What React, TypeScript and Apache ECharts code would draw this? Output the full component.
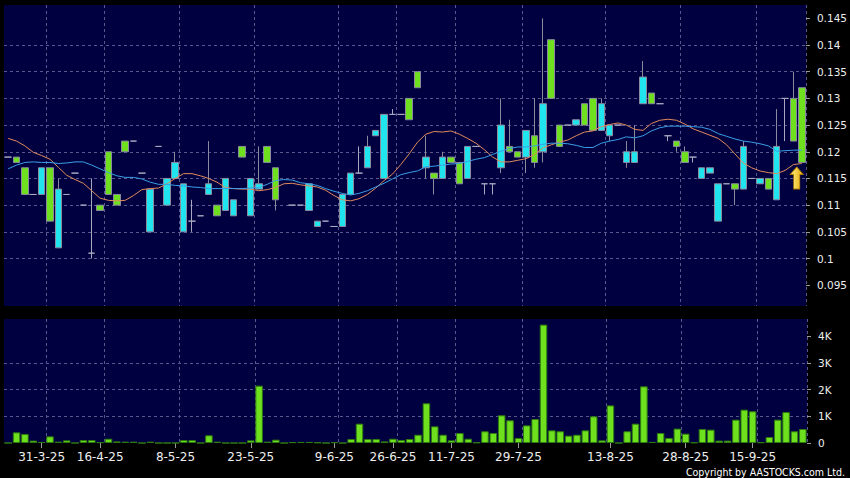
import { useEffect, useRef } from 'react';
import * as echarts from 'echarts';

const dates = [
  '25-3-25', '26-3-25', '27-3-25', '28-3-25', '31-3-25',
  '1-4-25', '3-4-25', '7-4-25', '9-4-25', '11-4-25', '15-4-25',
  '16-4-25',
  '17-4-25', '22-4-25', '24-4-25', '25-4-25', '28-4-25', '30-4-25', '2-5-25', '6-5-25',
  '8-5-25',
  '9-5-25', '12-5-25', '13-5-25', '14-5-25', '16-5-25', '19-5-25', '20-5-25', '22-5-25',
  '23-5-25',
  '26-5-25', '27-5-25', '28-5-25', '29-5-25', '30-5-25', '2-6-25', '3-6-25', '4-6-25', '6-6-25',
  '9-6-25',
  '10-6-25', '12-6-25', '16-6-25', '18-6-25', '20-6-25', '24-6-25',
  '26-6-25',
  '27-6-25', '30-6-25', '2-7-25', '3-7-25', '7-7-25', '9-7-25',
  '11-7-25',
  '14-7-25', '15-7-25', '17-7-25', '21-7-25', '23-7-25', '24-7-25', '28-7-25',
  '29-7-25',
  '30-7-25', '31-7-25', '1-8-25', '4-8-25', '5-8-25', '6-8-25', '7-8-25', '8-8-25', '11-8-25', '12-8-25',
  '13-8-25',
  '14-8-25', '15-8-25', '18-8-25', '19-8-25', '20-8-25', '22-8-25', '25-8-25', '27-8-25',
  '28-8-25',
  '29-8-25', '1-9-25', '2-9-25', '4-9-25', '8-9-25', '10-9-25', '12-9-25',
  '15-9-25',
  '16-9-25', '17-9-25', '18-9-25', '19-9-25', '22-9-25', '23-9-25',
];

const shownDates = ['31-3-25', '16-4-25', '8-5-25', '23-5-25', '9-6-25', '26-6-25', '11-7-25', '29-7-25', '13-8-25', '28-8-25', '15-9-25'];
const gridLineDates = ['1-4-25', '17-4-25', '9-5-25', '26-5-25', '10-6-25', '27-6-25', '14-7-25', '30-7-25', '13-8-25', '28-8-25', '16-9-25'];

const opens = [
  0.119, 0.119, 0.117, 0.112, 0.112, 0.117, 0.102, 0.112, 0.116, 0.110,
  0.101, 0.110, 0.120, 0.112, 0.122, 0.122, 0.116, 0.105, 0.121, 0.110,
  0.115, 0.105, 0.107, 0.108, 0.112, 0.110, 0.109, 0.108, 0.121, 0.108,
  0.113, 0.121, 0.117, null, 0.110, 0.110, 0.109, 0.106, 0.107, 0.106,
  0.106, 0.112, 0.116, 0.117, 0.123, 0.115, 0.127, 0.127, 0.130, 0.135,
  0.117, 0.116, 0.115, 0.119, 0.118, 0.115, 0.121, 0.114, 0.114, 0.117,
  0.121, 0.120, 0.119, 0.123, 0.120, 0.141, 0.125, 0.125, 0.125, 0.129,
  0.130, 0.124, 0.123, 0.125, 0.118, 0.118, 0.129, 0.131, 0.129, 0.123,
  0.122, 0.120, 0.119, 0.115, 0.116, 0.107, 0.114, 0.114, 0.113, 0.115,
  0.114, 0.115, 0.111, 0.130, 0.130, 0.132,
];
const closes = [
  0.119, 0.118, 0.112, 0.112, 0.117, 0.107, 0.113, 0.112, 0.116, 0.110,
  0.101, 0.109, 0.112, 0.110, 0.120, 0.122, 0.116, 0.113, 0.121, 0.115,
  0.118, 0.114, 0.107, 0.108, 0.114, 0.108, 0.115, 0.111, 0.119, 0.115,
  0.114, 0.118, 0.111, null, 0.110, 0.110, 0.114, 0.107, 0.107, 0.106,
  0.112, 0.116, 0.116, 0.121, 0.124, 0.127, 0.127, 0.127, 0.126, 0.132,
  0.119, 0.115, 0.119, 0.118, 0.114, 0.121, 0.121, 0.114, 0.114, 0.125,
  0.120, 0.119, 0.124, 0.118, 0.129, 0.130, 0.121, 0.125, 0.126, 0.125,
  0.124, 0.129, 0.125, 0.125, 0.120, 0.120, 0.134, 0.129, 0.129, 0.123,
  0.121, 0.118, 0.119, 0.117, 0.117, 0.114, 0.114, 0.113, 0.121, 0.115,
  0.115, 0.113, 0.121, 0.130, 0.122, 0.118,
];
const lows = [
  0.119, 0.118, 0.112, 0.112, 0.112, 0.107, 0.102, 0.112, 0.116, 0.110,
  0.100, 0.109, 0.112, 0.110, 0.120, 0.122, 0.116, 0.105, 0.121, 0.110,
  0.115, 0.105, 0.105, 0.108, 0.112, 0.108, 0.109, 0.108, 0.119, 0.108,
  0.113, 0.118, 0.109, null, 0.110, 0.110, 0.109, 0.106, 0.107, 0.106,
  0.106, 0.112, 0.116, 0.117, 0.123, 0.115, 0.127, 0.127, 0.126, 0.132,
  0.115, 0.112, 0.115, 0.118, 0.114, 0.115, 0.121, 0.112, 0.112, 0.116,
  0.120, 0.119, 0.116, 0.117, 0.118, 0.130, 0.121, 0.125, 0.125, 0.125,
  0.124, 0.124, 0.122, 0.125, 0.117, 0.118, 0.129, 0.129, 0.129, 0.122,
  0.120, 0.118, 0.118, 0.115, 0.116, 0.107, 0.114, 0.110, 0.113, 0.115,
  0.114, 0.113, 0.111, 0.122, 0.122, 0.118,
];
const highs = [
  0.119, 0.119, 0.117, 0.112, 0.117, 0.117, 0.115, 0.112, 0.116, 0.110,
  0.115, 0.110, 0.120, 0.112, 0.122, 0.122, 0.116, 0.113, 0.121, 0.115,
  0.120, 0.114, 0.111, 0.108, 0.122, 0.110, 0.115, 0.111, 0.121, 0.115,
  0.121, 0.121, 0.117, null, 0.110, 0.110, 0.114, 0.107, 0.107, 0.106,
  0.112, 0.116, 0.121, 0.123, 0.124, 0.127, 0.128, 0.127, 0.130, 0.135,
  0.123, 0.116, 0.120, 0.119, 0.118, 0.121, 0.121, 0.114, 0.114, 0.130,
  0.126, 0.120, 0.124, 0.130, 0.145, 0.141, 0.125, 0.125, 0.126, 0.129,
  0.130, 0.130, 0.125, 0.125, 0.122, 0.125, 0.137, 0.131, 0.129, 0.123,
  0.122, 0.121, 0.119, 0.117, 0.117, 0.114, 0.114, 0.114, 0.122, 0.115,
  0.115, 0.115, 0.128, 0.130, 0.135, 0.132,
];
const volumes = [
  0, 400, 340, 90, 40, 250, 50, 100, 0, 110,
  110, 30, 160, 60, 50, 50, 0, 50, 0, 0,
  0, 110, 110, 0, 290, 50, 0, 0, 0, 100,
  2150, 50, 125, 0, 30, 40, 40, 20, 0, 30,
  0, 150, 725, 150, 150, 60, 160, 110, 150, 310,
  1490, 625, 310, 100, 375, 160, 20, 440, 375, 1040,
  850, 190, 660, 900, 4440, 475, 440, 275, 310, 475,
  1000, 100, 1410, 0, 440, 725, 2125, 40, 375, 190,
  540, 350, 20, 525, 500, 90, 90, 875, 1250, 1190,
  25, 225, 875, 1160, 440, 525,
];
const maShort = [
  0.1225, 0.1220, 0.1211, 0.1199, 0.1193, 0.1186, 0.1171, 0.1156, 0.1148, 0.1141,
  0.1127, 0.1113, 0.1109, 0.1108, 0.1109, 0.1118, 0.1129, 0.1131, 0.1132, 0.1140,
  0.1150, 0.1159, 0.1159, 0.1155, 0.1150, 0.1143, 0.1133, 0.1131, 0.1130, 0.1130,
  0.1127, 0.1129, 0.1133, 0.1140, 0.1141, 0.1138, 0.1136, 0.1134, 0.1128, 0.1118,
  0.1110, 0.1108, 0.1112, 0.1120, 0.1132, 0.1146, 0.1158, 0.1176, 0.1196, 0.1218,
  0.1233, 0.1238, 0.1237, 0.1239, 0.1233, 0.1225, 0.1216, 0.1204, 0.1190, 0.1181,
  0.1181, 0.1184, 0.1187, 0.1195, 0.1207, 0.1213, 0.1218, 0.1222, 0.1230, 0.1237,
  0.1239, 0.1247, 0.1251, 0.1254, 0.1250, 0.1242, 0.1240, 0.1253, 0.1259, 0.1261,
  0.1259, 0.1252, 0.1243, 0.1237, 0.1231, 0.1225, 0.1213, 0.1196, 0.1179, 0.1170,
  0.1164, 0.1161, 0.1159, 0.1165, 0.1176, 0.1178,
];
const maLong = [
  0.1168, 0.1175, 0.1180, 0.1181, 0.1180, 0.1180, 0.1178, 0.1179, 0.1181, 0.1181,
  0.1175, 0.1168, 0.1161, 0.1155, 0.1152, 0.1152, 0.1149, 0.1143, 0.1139, 0.1139,
  0.1137, 0.1136, 0.1134, 0.1133, 0.1131, 0.1131, 0.1131, 0.1131, 0.1131, 0.1132,
  0.1133, 0.1139, 0.1146, 0.1148, 0.1147, 0.1142, 0.1140, 0.1137, 0.1131, 0.1126,
  0.1122, 0.1119, 0.1122, 0.1127, 0.1134, 0.1141, 0.1149, 0.1157, 0.1161, 0.1164,
  0.1172, 0.1173, 0.1175, 0.1177, 0.1178, 0.1182, 0.1186, 0.1189, 0.1195, 0.1201,
  0.1206, 0.1209, 0.1209, 0.1211, 0.1214, 0.1216, 0.1216, 0.1215, 0.1212, 0.1208,
  0.1208, 0.1216, 0.1220, 0.1223, 0.1228, 0.1226, 0.1230, 0.1239, 0.1245, 0.1248,
  0.1248, 0.1248, 0.1247, 0.1246, 0.1242, 0.1234, 0.1229, 0.1224, 0.1220, 0.1218,
  0.1215, 0.1211, 0.1201, 0.1202, 0.1203, 0.1203,
];

const priceTicks = [0.095, 0.1, 0.105, 0.11, 0.115, 0.12, 0.125, 0.13, 0.135, 0.14, 0.145];
const volumeTicks = [0, 1000, 2000, 3000, 4000];
const signalArrow = { date: '23-9-25', value: 0.1151 };

const FONT = 'DejaVu Sans';
const GRID_LINE = { color: '#58588c', type: [3, 3] as any, width: 1 };

export default function App() {
  const ref = useRef<HTMLDivElement>(null);

  useEffect(() => {
    if (!ref.current) return;
    const chart = echarts.init(ref.current, null, { renderer: 'svg' });

    const candleData = dates.map((_, i) =>
      opens[i] == null ? ['-', '-', '-', '-'] : [opens[i], closes[i], lows[i], highs[i]]
    );
    const showLabel = (i: number) => shownDates.includes(dates[i]);
    const showGrid = (i: number) => gridLineDates.includes(dates[i]);

    chart.setOption({
      animation: false,
      backgroundColor: '#000000',
      grid: [
        { left: 4, top: 5, width: 803, height: 301, show: true, backgroundColor: '#000040', borderWidth: 0 },
        { left: 4, top: 319, width: 803, height: 124, show: true, backgroundColor: '#000040', borderWidth: 0 },
      ],
      xAxis: [
        {
          type: 'category', gridIndex: 0, data: dates, boundaryGap: true,
          axisLine: { show: false }, axisTick: { show: false }, axisLabel: { show: false },
          splitLine: { show: true, interval: (i: number) => showGrid(i), lineStyle: GRID_LINE },
        },
        {
          type: 'category', gridIndex: 1, data: dates, boundaryGap: true,
          axisLine: { show: false },
          axisTick: { show: true, alignWithLabel: true, interval: (i: number) => showLabel(i), length: 5, lineStyle: { color: '#9a9a9a' } },
          axisLabel: { interval: (i: number) => showLabel(i), color: '#eeeeee', fontSize: 12, fontFamily: FONT, margin: 8 },
          splitLine: { show: true, interval: (i: number) => showGrid(i), lineStyle: GRID_LINE },
        },
      ],
      yAxis: [
        {
          type: 'value', gridIndex: 0, position: 'right', min: 0.0911, max: 0.1475, scale: true,
          axisLine: { show: false },
          axisTick: { show: true, length: 4, customValues: priceTicks, lineStyle: { color: '#9a9a9a' } },
          axisLabel: { customValues: priceTicks, color: '#eeeeee', fontSize: 10.5, fontFamily: FONT, margin: 11, formatter: (v: number) => String(v) },
          splitLine: { show: true, showMinLine: false, showMaxLine: false, lineStyle: GRID_LINE },
        },
        {
          type: 'value', gridIndex: 1, position: 'right', min: 0, max: 4650,
          axisLine: { show: false },
          axisTick: { show: true, length: 4, customValues: volumeTicks, lineStyle: { color: '#9a9a9a' } },
          axisLabel: {
            customValues: volumeTicks, color: '#eeeeee', fontSize: 10.5, fontFamily: FONT, margin: 11,
            formatter: (v: number) => (v === 0 ? '0' : v / 1000 + 'K'),
          },
          splitLine: { show: true, showMinLine: false, showMaxLine: false, lineStyle: GRID_LINE },
        },
      ],
      series: [
        {
          type: 'candlestick', xAxisIndex: 0, yAxisIndex: 0, data: candleData, barWidth: 7,
          itemStyle: {
            color: '#20e4ee', color0: '#6ee01e',
            borderColor: '#8a8a9e', borderColor0: '#8a8a9e', borderColorDoji: '#a8a8c0', borderWidth: 1,
          },
          markPoint: {
            silent: true,
            data: [{
              coord: [signalArrow.date, signalArrow.value],
              symbol: 'path://M6.5,0L13,7.5L9.6,7.5L9.6,22L3.4,22L3.4,7.5L0,7.5Z',
              symbolSize: [13, 22],
              symbolOffset: [-5, 0],
              itemStyle: {
                color: new echarts.graphic.LinearGradient(0, 0, 1, 0, [
                  { offset: 0, color: '#fff48a' },
                  { offset: 1, color: '#e3a400' },
                ]),
                borderColor: '#b07a00', borderWidth: 0.8,
              },
              label: { show: false },
            }],
          },
          z: 3,
        },
        {
          type: 'line', xAxisIndex: 0, yAxisIndex: 0, data: maShort, showSymbol: false, symbol: 'none',
          lineStyle: { color: '#e08a5c', width: 1 }, z: 4,
        },
        {
          type: 'line', xAxisIndex: 0, yAxisIndex: 0, data: maLong, showSymbol: false, symbol: 'none',
          lineStyle: { color: '#3a9ee6', width: 1 }, z: 4,
        },
        {
          type: 'bar', xAxisIndex: 1, yAxisIndex: 1, data: volumes, barCategoryGap: '10%',
          itemStyle: { color: '#6ee01e', borderColor: '#2e7a10', borderWidth: 1 },
        },
      ],
      graphic: [
        {
          type: 'text', right: 5, top: 466,
          style: { text: 'Copyright by AASTOCKS.com Ltd.', fill: '#ffffff', font: '10.5px "DejaVu Sans Condensed", "DejaVu Sans"' },
        },
      ],
    });

    return () => chart.dispose();
  }, []);

  return (
    <div
      ref={ref}
      style={{ position: 'fixed', left: 0, top: 0, width: 850, height: 478, background: '#000' }}
    />
  );
}
